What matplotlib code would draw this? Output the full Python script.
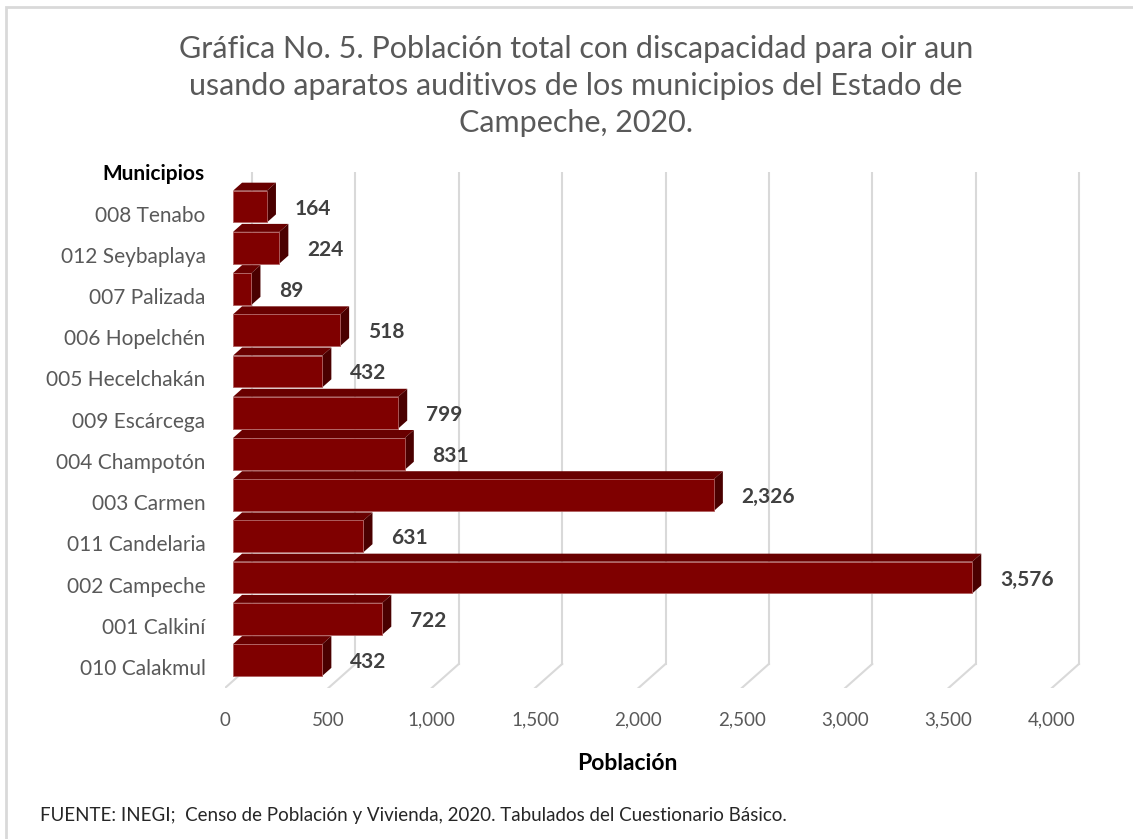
import matplotlib
matplotlib.use("Agg")
import matplotlib.pyplot as plt
from matplotlib.patches import Polygon, Rectangle

plt.rcParams["font.family"] = ["Lato", "DejaVu Sans"]

# data (bottom to top, as drawn)
municipios = ["010 Calakmul", "001 Calkiní", "002 Campeche", "011 Candelaria",
              "003 Carmen", "004 Champotón", "009 Escárcega", "005 Hecelchakán",
              "006 Hopelchén", "007 Palizada", "012 Seybaplaya", "008 Tenabo"]
poblacion = [432, 722, 3576, 631, 2326, 831, 799, 432, 518, 89, 224, 164]
ticks = [0, 500, 1000, 1500, 2000, 2500, 3000, 3500, 4000]

W, H = 1133, 839
fig = plt.figure(figsize=(W / 100, H / 100), dpi=100)

def fx(px):
    return px / W

def fy(py):
    return 1 - py / H

# frame around the chart area
fig.patches.append(Rectangle((fx(6), fy(900)), fx(1200), fy(7) - fy(900),
                             transform=fig.transFigure, fill=False,
                             edgecolor="#D9D9D9", lw=2))

ax = fig.add_axes([fx(225), fy(688), fx(1081) - fx(225), fy(171.5) - fy(688)])
ax.set_xlim(-39, 4102)
ax.set_ylim(-0.68, 11.85)
for s in ax.spines.values():
    s.set_visible(False)

# pseudo 3D offsets (value units / category units)
bar_h = 0.77
dx, dy = 43.5, 0.194          # bar depth
fl_dx = 39                    # floor front shift
back_dx, back_y = 92, -0.097  # back wall

grid_c = "#D9D9D9"
for t in ticks:
    ax.plot([t - fl_dx, t + back_dx], [-0.68, back_y], color=grid_c, lw=1.5, zorder=1)
    ax.plot([t + back_dx, t + back_dx], [back_y, 11.85], color=grid_c, lw=1.5, zorder=1)

front_c, top_c, side_c = "#7F0000", "#690000", "#4A0000"
for i, v in enumerate(poblacion):
    y0, y1 = i - bar_h / 2, i + bar_h / 2
    ax.add_patch(Polygon([(0, y1), (v, y1), (v + dx, y1 + dy), (dx, y1 + dy)],
                         closed=True, facecolor=top_c, edgecolor="none", zorder=3))
    ax.add_patch(Polygon([(v, y0), (v + dx, y0 + dy), (v + dx, y1 + dy), (v, y1)],
                         closed=True, facecolor=side_c, edgecolor="none", zorder=3))
    ax.add_patch(Rectangle((0, y0), v, bar_h, facecolor=front_c,
                           edgecolor="#B06060", lw=0.6, zorder=4))
    ax.text(v + dx + 90, i - 0.05, f"{v:,}", ha="left", va="center",
            fontsize=15, fontweight="bold", color="#404040", zorder=5)

ax.set_xticks([t - fl_dx for t in ticks])
ax.set_xticklabels([f"{t:,}" for t in ticks], fontsize=13.5, color="#595959")
ax.set_yticks([i - 0.17 for i in range(len(municipios))])
ax.set_yticklabels(municipios, fontsize=15, color="#595959")
ax.tick_params(axis="x", length=0, pad=17)
ax.tick_params(axis="y", length=0, pad=14)

fig.text(fx(205), fy(174), "Municipios", ha="right", va="center",
         fontsize=15, fontweight="bold", color="black")
fig.text(fx(627), fy(764), "Población", ha="center", va="center",
         fontsize=16.5, fontweight="bold", color="black")

title = ("Gráfica No. 5. Población total con discapacidad para oir aun\n"
         "usando aparatos auditivos de los municipios del Estado de\n"
         "Campeche, 2020.")
fig.text(fx(576), fy(86), title, ha="center", va="center", fontsize=22,
         color="#595959", linespacing=1.38)

fig.text(fx(40), fy(816), "FUENTE: INEGI;  Censo de Población y Vivienda, 2020. Tabulados del Cuestionario Básico.",
         ha="left", va="center", fontsize=13.5, color="#262626")

fig.savefig("out.png", dpi=100)
